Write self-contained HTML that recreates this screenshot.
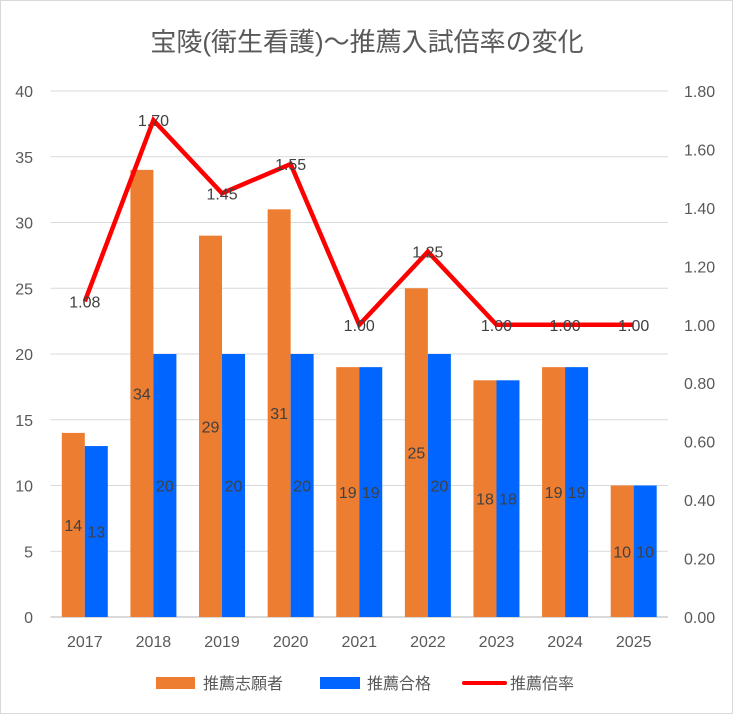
<!DOCTYPE html>
<html><head><meta charset="utf-8"><style>
body{margin:0;background:#fff}
svg text{font-family:"Liberation Sans","Noto Sans CJK JP",sans-serif}
</style></head><body>
<svg id="c" width="733" height="714" xmlns="http://www.w3.org/2000/svg">
<rect x="0.5" y="0.5" width="732" height="713" fill="#fff" stroke="#d9d9d9"/>
<text x="367" y="51" text-anchor="middle" font-size="26" fill="#595959">宝陵(衛生看護)～推薦入試倍率の変化</text>
<g id="grid"></g><g id="bars"></g><g id="line"></g><g id="labels"></g>
<g>
<rect x="156" y="677" width="39" height="12" fill="#ED7D31"/>
<text x="203" y="689" font-size="16" fill="#595959">推薦志願者</text>
<rect x="320" y="677" width="40" height="12" fill="#0066FF"/>
<text x="367" y="689" font-size="16" fill="#595959">推薦合格</text>
<line x1="464" y1="683" x2="505" y2="683" stroke="#FF0000" stroke-width="4" stroke-linecap="round"/>
<text x="510" y="689" font-size="16" fill="#595959">推薦倍率</text>
</g>
</svg>
<script>
const categories=["2017","2018","2019","2020","2021","2022","2023","2024","2025"];
const applicants=[14,34,29,31,19,25,18,19,10];
const passed=[13,20,20,20,19,20,18,19,10];
const ratio=[1.08,1.70,1.45,1.55,1.00,1.25,1.00,1.00,1.00];
const leftTicks=[0,5,10,15,20,25,30,35,40];
const rightTicks=["0.00","0.20","0.40","0.60","0.80","1.00","1.20","1.40","1.60","1.80"];
const NS="http://www.w3.org/2000/svg";
const X0=50.5,X1=668,Y0=617,Y1=91;
const cw=(X1-X0)/categories.length;
const yL=v=>Y0-(v/40)*(Y0-Y1);
const yR=v=>Y0-(v/1.8)*(Y0-Y1);
const cx=i=>X0+cw*(i+0.5);
function mk(t,a,p){const e=document.createElementNS(NS,t);for(const k in a)e.setAttribute(k,a[k]);p.appendChild(e);return e;}
const grid=document.getElementById('grid'),bars=document.getElementById('bars'),line=document.getElementById('line'),labels=document.getElementById('labels');
leftTicks.forEach(v=>{
 const y=yL(v);
 const g=mk('line',{x1:X0,x2:X1,y1:y,y2:y,stroke:'#d9d9d9','stroke-width':v===0?2:1},grid);
 
 
 const t=mk('text',{x:33,y:y+6,'text-anchor':'end','font-size':16,fill:'#595959'},grid);
 t.textContent=v;
 
 
});
rightTicks.forEach(s=>{
 const t=mk('text',{x:684,y:yR(parseFloat(s))+6,'font-size':16,fill:'#595959'},grid);
 t.textContent=s;
 
 
});
const bw=23;
categories.forEach((c,i)=>{
 const t=mk('text',{x:cx(i),y:647,'text-anchor':'middle','font-size':16,fill:'#595959'},grid);
 t.textContent=c;
 
 
 [[applicants,'#ED7D31',-bw,'bar-applicants'],[passed,'#0066FF',0,'bar-passed']].forEach(([arr,col,off,nm])=>{
  const y=yL(arr[i]);
  const r=mk('rect',{x:cx(i)+off,y:y,width:bw,height:Y0-y,fill:col},bars);
  
  
  const l=mk('text',{x:cx(i)+off+bw/2,y:(y+Y0)/2+6,'text-anchor':'middle','font-size':16,fill:'#404040'},labels);
  l.textContent=arr[i];
  
  
 });
});
const pts=ratio.map((v,i)=>cx(i)+','+yR(v)).join(' ');
const pl=mk('polyline',{points:pts,fill:'none',stroke:'#FF0000','stroke-width':4.5},line);


ratio.forEach((v,i)=>{
 const l=mk('text',{x:cx(i),y:yR(v)+6,'text-anchor':'middle','font-size':16,fill:'#404040'},labels);
 l.textContent=v.toFixed(2);
 
 
});
</script>
</body></html>
